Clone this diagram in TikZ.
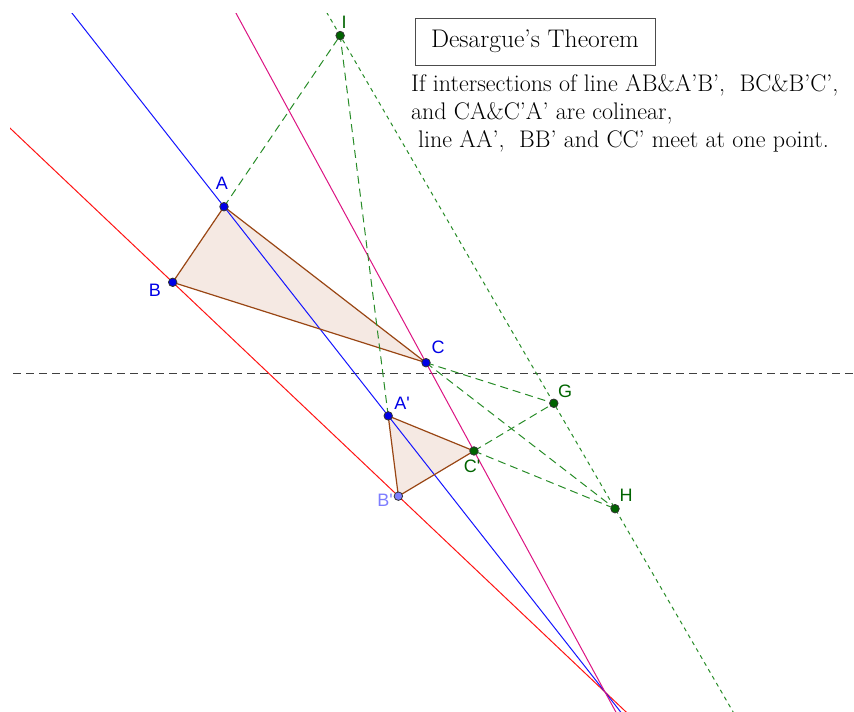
\documentclass[tikz,border=0pt]{standalone}
\usepackage{fontspec}
\newfontfamily\labelfont{Liberation Sans}
\usetikzlibrary{calc}

\definecolor{lineblue}{RGB}{20,20,255}
\definecolor{linered}{RGB}{255,20,20}
\definecolor{linemag}{RGB}{220,20,130}
\definecolor{edgebrown}{RGB}{153,70,20}
\definecolor{trifill}{RGB}{245,233,227}
\definecolor{axisgreen}{RGB}{40,140,40}
\definecolor{ptgreen}{RGB}{0,100,0}
\definecolor{ptblue}{RGB}{0,0,230}
\definecolor{ptlight}{RGB}{125,125,255}

\begin{document}
\begin{tikzpicture}[
  x=1pt,y=-1pt,
  ext/.style={line width=1pt},
  tri/.style={draw=edgebrown, line width=1.2pt, line join=round},
  greendash/.style={draw=axisgreen, line width=1pt, dash pattern=on 8pt off 5pt},
  axisdash/.style={draw=axisgreen, line width=1pt, dash pattern=on 4pt off 4pt},
  blackdash/.style={draw=black!75, line width=1pt, dash pattern=on 8pt off 5pt},
  dot/.style={circle, draw=black!80, line width=0.8pt, inner sep=0pt, minimum size=8.5pt},
  ptlabel/.style={font=\labelfont\fontsize{18}{18}\selectfont, inner sep=0pt},
  textline/.style={font=\fontsize{24}{28}\selectfont, anchor=west, inner sep=0pt},
]
\useasboundingbox (0,0) rectangle (854,712);

% --- the two triangles and the centre of perspective ---
\coordinate (O) at (605,692);
\coordinate (A) at (224,206.7);
\coordinate (B) at (172.7,282.3);
\coordinate (C) at (426,362.7);
\coordinate (Ap) at ($(A)!0.431!(O)$);
\coordinate (Bp) at ($(B)!0.522!(O)$);
\coordinate (Cp) at ($(C)!0.268!(O)$);

% intersections of corresponding sides
\coordinate (I) at (intersection of A--B and Ap--Bp);
\coordinate (G) at (intersection of B--C and Bp--Cp);
\coordinate (H) at (intersection of C--A and Cp--Ap);

% --- triangle fills ---
\fill[trifill] (A) -- (B) -- (C) -- cycle;
\fill[trifill] (Ap) -- (Bp) -- (Cp) -- cycle;

% --- long lines, cut at the view ---
\begin{scope}
  \clip (10,13) rectangle (854,712);
  \draw[blackdash] (0,373.3) -- (854,373.3);
  \draw[axisdash] ($(I)!-1!(H)$) -- ($(I)!2!(H)$);
  \draw[ext, linered] ($(B)!-2!(O)$) -- ($(B)!2!(O)$);
  \draw[ext, lineblue] ($(A)!-2!(O)$) -- ($(A)!2!(O)$);
  \draw[ext, linemag] ($(C)!-2!(O)$) -- ($(C)!2!(O)$);
\end{scope}

% --- triangle sides ---
\draw[tri] (A) -- (B) -- (C) -- cycle;
\draw[tri] (Ap) -- (Bp) -- (Cp) -- cycle;

% --- dashed sides up to the axis ---
\draw[greendash] (A) -- (I);
\draw[greendash] (Ap) -- (I);
\draw[greendash] (C) -- (G);
\draw[greendash] (Cp) -- (G);
\draw[greendash] (C) -- (H);
\draw[greendash] (Cp) -- (H);

% --- points ---
\foreach \p in {A,B,C,Ap} {
  \node[dot, fill=ptblue] (d\p) at (\p) {};
}
\foreach \p in {Cp,G,H,I} {
  \node[dot, fill=ptgreen] (d\p) at (\p) {};
}
\node[dot, fill=ptlight] (dBp) at (Bp) {};

% --- point labels ---
\node[ptlabel, text=ptblue] (lA) at (222,183) {A};
\node[ptlabel, text=ptblue] (lB) at (155,290) {B};
\node[ptlabel, text=ptblue] (lC) at (438,347) {C};
\node[ptlabel, text=ptblue] (lAp) at (402,403) {A'};
\node[ptlabel, text=ptlight] (lBp) at (385,500) {B'};
\node[ptlabel, text=ptgreen] (lCp) at (472,466) {C'};
\node[ptlabel, text=ptgreen] (lG) at (565,391) {G};
\node[ptlabel, text=ptgreen] (lH) at (626,495) {H};
\node[ptlabel, text=ptgreen] (lI) at (344,22) {I};

% --- title and statement ---
\node[draw=black!70, line width=0.8pt, minimum width=240pt, minimum height=47pt,
  font=\fontsize{25.5}{28}\selectfont] (title) at (535,41.5) {Desargue's Theorem};
\node[textline] (t1) at (411,85) {If intersections of line AB\&A'B', \ BC\&B'C',};
\node[textline] (t2) at (411,113) {and CA\&C'A' are colinear,};
\node[textline] (t3) at (418,141) {line AA', \ BB' and CC' meet at one point.};

\end{tikzpicture}
\end{document}
